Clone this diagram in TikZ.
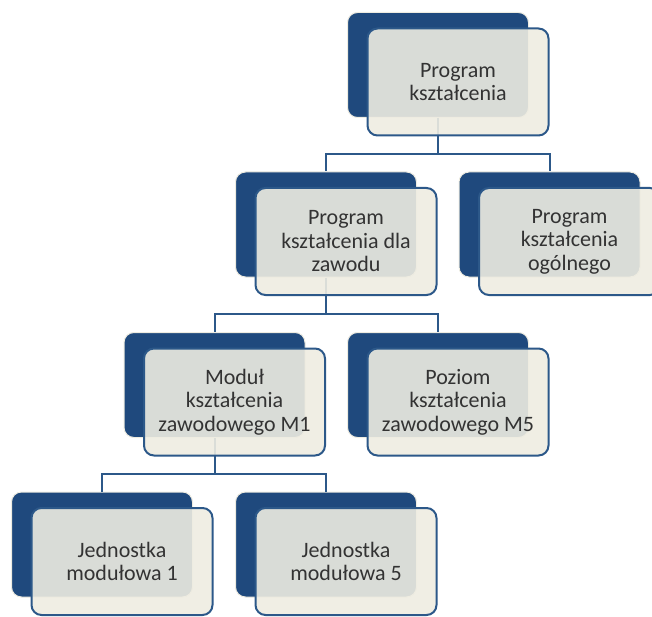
\documentclass[tikz,border=0pt]{standalone}
\usepackage{fontspec}
\setmainfont{Carlito}
\definecolor{navy}{HTML}{1F497D}
\definecolor{tan}{HTML}{EEECE1}
\definecolor{rim}{HTML}{2C5889}
\definecolor{ink}{HTML}{333333}
\begin{document}
\begin{tikzpicture}
[x=1pt,y=-1pt,
 back/.style=
   {rectangle,rounded corners=10pt,fill=navy,draw=tan,line width=1pt,
    minimum width=181pt,minimum height=105pt},
 front/.style=
   {rectangle,rounded corners=10pt,fill=tan,fill opacity=0.9,text opacity=1,
    draw=rim,line width=2pt,minimum width=181pt,minimum height=107pt,
    text=ink,align=center,font=\fontsize{22}{23.5}\selectfont},
 link/.style={draw=rim,line width=2pt}]
\useasboundingbox (0,0) rectangle (652,617);
\clip (0,0) rectangle (652,617);

% dark boxes behind
\node [back] (top-back) at (438,65) {};
\node [back] (voc-back) at (326,224.5) {};
\node [back] (gen-back) at (549.5,224.5) {};
\node [back] (mod-back) at (214.5,385) {};
\node [back] (lev-back) at (438,385) {};
\node [back] (j1-back) at (102,544.5) {};
\node [back] (j5-back) at (326,544.5) {};

% connectors
\draw [link] (top-back.south) -- ++(0,36) coordinate (fork1) -| (voc-back.north);
\draw [link] (fork1) -| (gen-back.north);
\draw [link] (voc-back.south) -- ++(0,36) coordinate (fork2) -| (mod-back.north);
\draw [link] (fork2) -| (lev-back.north);
\draw [link] (mod-back.south) -- ++(0,36) coordinate (fork3) -| (j1-back.north);
\draw [link] (fork3) -| (j5-back.north);

% light boxes in front
\node [front] (top) at ([shift={(20,17)}]top-back) {Program\\kształcenia};
\node [front] (voc) at ([shift={(20,17)}]voc-back) {Program\\kształcenia dla\\zawodu};
\node [front] (gen) at ([shift={(20,17)}]gen-back) {Program\\kształcenia\\ogólnego};
\node [front] (mod) at ([shift={(20,17)}]mod-back) {Moduł\\kształcenia\\zawodowego M1};
\node [front] (lev) at ([shift={(20,17)}]lev-back) {Poziom\\kształcenia\\zawodowego M5};
\node [front] (j1) at ([shift={(20,17)}]j1-back) {Jednostka\\modułowa 1};
\node [front] (j5) at ([shift={(20,17)}]j5-back) {Jednostka\\modułowa 5};
\end{tikzpicture}
\end{document}
